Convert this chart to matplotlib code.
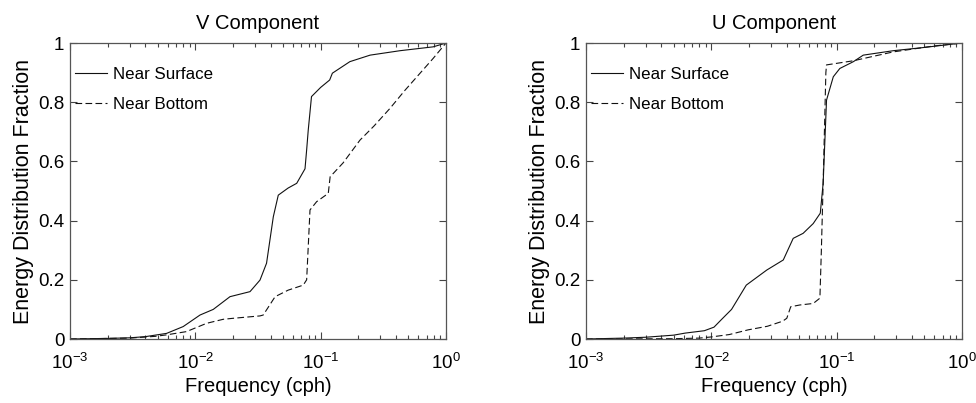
import matplotlib
matplotlib.use("Agg")
import matplotlib.pyplot as plt
from matplotlib.ticker import FixedLocator, FuncFormatter, LogLocator, NullFormatter

plt.rcParams['font.family'] = ['Liberation Sans', 'DejaVu Sans']
plt.rcParams['mathtext.default'] = 'regular'

# V component
v_surf_f = [0.001, 0.002, 0.003, 0.004, 0.0059, 0.008, 0.0109, 0.0139, 0.0189, 0.0273,
            0.0328, 0.037, 0.0419, 0.0459, 0.055, 0.0644, 0.075, 0.0773, 0.0796, 0.0845,
            0.1, 0.118, 0.124, 0.171, 0.248, 0.43, 0.79, 1.0]
v_surf = [0.0, 0.002, 0.004, 0.008, 0.019, 0.042, 0.081, 0.1, 0.143, 0.160,
          0.199, 0.256, 0.413, 0.486, 0.51, 0.526, 0.575, 0.639, 0.706, 0.819,
          0.85, 0.875, 0.898, 0.937, 0.959, 0.974, 0.987, 1.0]

v_bot_f = [0.001, 0.003, 0.0048, 0.0059, 0.0085, 0.0123, 0.0167, 0.0201, 0.0328, 0.0348,
           0.0433, 0.055, 0.0726, 0.0773, 0.0822, 0.0929, 0.115, 0.119, 0.151, 0.206,
           0.267, 0.357, 0.47, 0.79, 1.0]
v_bot = [0.0, 0.003, 0.009, 0.014, 0.025, 0.053, 0.0666, 0.07, 0.078, 0.081,
         0.143, 0.165, 0.182, 0.2, 0.436, 0.464, 0.492, 0.548, 0.595, 0.672,
         0.72, 0.779, 0.84, 0.948, 1.0]

# U component
u_surf_f = [0.001, 0.002, 0.003, 0.005, 0.0062, 0.0088, 0.0105, 0.0121, 0.0145, 0.019,
            0.0277, 0.0375, 0.045, 0.054, 0.065, 0.074, 0.078, 0.080, 0.083, 0.094,
            0.106, 0.136, 0.163, 0.283, 0.5, 1.0]
u_surf = [0.0, 0.003, 0.006, 0.013, 0.02, 0.028, 0.04, 0.0666, 0.1, 0.182,
          0.233, 0.267, 0.340, 0.357, 0.39, 0.425, 0.526, 0.64, 0.807, 0.886,
          0.914, 0.937, 0.959, 0.974, 0.985, 1.0]

u_bot_f = [0.001, 0.005, 0.008, 0.01, 0.0139, 0.0197, 0.028, 0.037, 0.040, 0.043,
           0.051, 0.065, 0.0735, 0.0755, 0.078, 0.082, 0.083, 0.136, 0.283, 0.6, 1.0]
u_bot = [0.0, 0.001, 0.003, 0.007, 0.015, 0.031, 0.043, 0.06, 0.07, 0.109,
         0.115, 0.12, 0.138, 0.30, 0.526, 0.90, 0.926, 0.940, 0.97, 0.99, 1.0]

titles = ['V Component', 'U Component']
series = [(v_surf_f, v_surf, v_bot_f, v_bot), (u_surf_f, u_surf, u_bot_f, u_bot)]
yticks = [0, 0.2, 0.4, 0.6, 0.8, 1]

fig = plt.figure(figsize=(9.76, 4.03), dpi=100, facecolor='white')
lefts = [70 / 976, 586 / 976]
for left, title, (sf, sv, bf, bv) in zip(lefts, titles, series):
    ax = fig.add_axes([left, 64 / 403, 376 / 976, 296 / 403])
    ax.plot(sf, sv, color='#111111', lw=0.8, label='Near Surface')
    ax.plot(bf, bv, color='#111111', lw=0.8, dashes=(6, 3), label='Near Bottom')
    ax.set_xscale('log')
    ax.set_xlim(1e-3, 1)
    ax.set_ylim(0, 1)
    ax.xaxis.set_major_locator(LogLocator(base=10, numticks=10))
    ax.xaxis.set_minor_locator(LogLocator(base=10, subs=range(2, 10), numticks=20))
    ax.xaxis.set_minor_formatter(NullFormatter())
    ax.yaxis.set_major_locator(FixedLocator(yticks))
    ax.yaxis.set_major_formatter(FuncFormatter(lambda v, p: '%g' % v))
    ax.tick_params(which='both', direction='in', top=True, right=True,
                   colors='#444444', labelcolor='black', labelsize=13.5)
    ax.tick_params(which='major', length=5, width=0.8)
    ax.tick_params(which='minor', length=3, width=0.8)
    ax.tick_params(axis='x', which='major', pad=10)
    ax.tick_params(axis='y', which='major', pad=4)
    for s in ax.spines.values():
        s.set_color('#555555')
        s.set_linewidth(0.9)
    ax.set_title(title, fontsize=14.5, pad=10)
    ax.set_xlabel('Frequency (cph)', fontsize=14.5, labelpad=3)
    ax.set_ylabel('Energy Distribution Fraction', fontsize=15.5, labelpad=3)
    ax.legend(loc='upper left', bbox_to_anchor=(0.013, 0.92), frameon=False,
              fontsize=12.2, handlelength=1.9, handletextpad=0.35,
              labelspacing=0.9, borderaxespad=0, borderpad=0)

fig.savefig('out.png', dpi=100)
